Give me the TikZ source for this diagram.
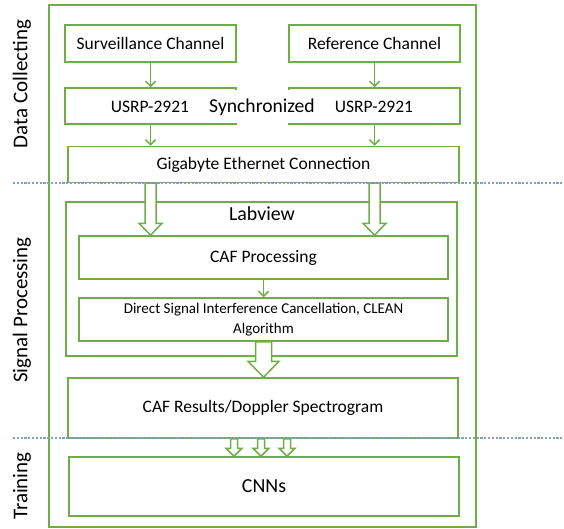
\documentclass[tikz,border=0pt]{standalone}
\usepackage{fontspec}
\setmainfont{Carlito}
\usetikzlibrary{arrows.meta,calc}
\definecolor{grn}{RGB}{112,173,71}
\definecolor{dotc}{RGB}{132,160,196}
\newcommand\blockarrow[5]{%
  \draw[hollow] let \p1=(#1), \p2=(#2) in
    (\x1-#3,\y1) -- (\x1+#3,\y1) -- (\x1+#3,\y2+#5) -- (\x1+#4,\y2+#5) --
    (\x1,\y2) -- (\x1-#4,\y2+#5) -- (\x1-#3,\y2+#5) -- cycle;}
\tikzset{
  box/.style={draw=grn, line width=1.5pt, fill=white, inner sep=0pt, align=center},
  hollow/.style={draw=grn, line width=1.5pt, fill=white, line join=miter},
  thin/.style={draw=grn, line width=1.5pt, -{Straight Barb[length=5pt,width=10pt,line width=1.5pt]}},
  sep/.style={draw=dotc, line width=2.5pt, dash pattern=on 2.2pt off 1.6pt},
  txt/.style={font=\fontsize{17.5}{21}\selectfont},
  side/.style={rotate=90, font=\fontsize{21}{25}\selectfont},
}
\begin{document}
\begin{tikzpicture}[x=1pt,y=-1pt]
\useasboundingbox (0,0) rectangle (564,529);
\node[draw=grn, line width=1.5pt, minimum width=427pt, minimum height=522pt, inner sep=0pt] (frame) at (262.5,266) {};
% side labels
\node[side] (l1) at (22,84) {Data Collecting};
\node[side] (l2) at (22,310) {Signal Processing};
\node[side] (l3) at (22,486) {Training};
% data collecting
\node[box, txt, minimum width=171pt, minimum height=37pt] (surv) at (150.5,43.5) {Surveillance Channel};
\node[box, txt, minimum width=171pt, minimum height=37pt] (ref) at (374.5,43.5) {Reference Channel};
\node[box, minimum width=171pt, minimum height=36pt] (usrpL) at (150.5,106) {};
\node[box, minimum width=171pt, minimum height=36pt] (usrpR) at (374.5,106) {};
\node[txt] (usrpLt) at (150,107) {USRP-2921};
\node[txt] (usrpRt) at (374,107) {USRP-2921};
\node[fill=white, inner sep=2pt, minimum height=33pt, font=\fontsize{19.6}{23}\selectfont] (sync) at (262,107) {Synchronized};
\node[box, txt, minimum width=391pt, minimum height=36pt] (giga) at (263.5,164.5) {Gigabyte Ethernet Connection};
\draw[thin] (surv.south) -- (usrpL.north);
\draw[thin] (ref.south) -- (usrpR.north);
\draw[thin] (usrpL.south) -- (usrpL.south |- giga.north);
\draw[thin] (usrpR.south) -- (usrpR.south |- giga.north);
% signal processing
\node[box, minimum width=391pt, minimum height=154pt] (lab) at (261.5,279) {};
\node[anchor=base, font=\fontsize{19.9}{23}\selectfont] (labt) at (262,221) {Labview};
\node[box, txt, minimum width=369pt, minimum height=43pt] (caf) at (263.5,257.5) {CAF Processing};
\node[box, minimum width=369pt, minimum height=43pt, font=\fontsize{15}{19.5}\selectfont] (dsi) at (263.5,319.5) {Direct Signal Interference Cancellation, CLEAN\\Algorithm};
\draw[thin] (caf.south) -- (dsi.north);
\node[box, txt, minimum width=390pt, minimum height=60pt] (res) at (263,408) {CAF Results/Doppler Spectrogram};
\blockarrow{giga.south -| usrpL}{caf.north -| usrpL}{5.5pt}{11.5pt}{12pt}
\blockarrow{giga.south -| usrpR}{caf.north -| usrpR}{5.5pt}{11.5pt}{12pt}
\blockarrow{dsi.south}{res.north}{8pt}{15.5pt}{16pt}
% training
\node[box, minimum width=390pt, minimum height=59pt, font=\fontsize{19.9}{23}\selectfont] (cnn) at (264,486.5) {CNNs};
\blockarrow{$(res.south)+(-29,0)$}{$(cnn.north)+(-30,0)$}{3.5pt}{8pt}{8pt}
\blockarrow{$(res.south)+(-2,0)$}{$(cnn.north)+(-3,0)$}{3.5pt}{8pt}{8pt}
\blockarrow{$(res.south)+(24,0)$}{$(cnn.north)+(23,0)$}{3.5pt}{8pt}{8pt}
% separators
\coordinate (s1a) at (13,183);
\coordinate (s1b) at (564,183);
\coordinate (s2a) at (13,438);
\coordinate (s2b) at (564,438);
\draw[sep] (s1a) -- (s1b);
\draw[sep] (s2a) -- (s2b);
\end{tikzpicture}
\end{document}
